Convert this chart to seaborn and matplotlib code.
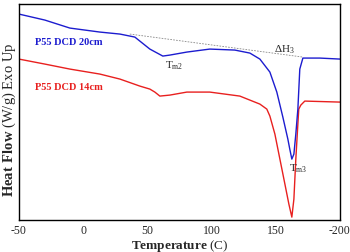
import numpy as np
import pandas as pd
import matplotlib
matplotlib.use("Agg")
import matplotlib.pyplot as plt
import seaborn as sns

# DSC curves (temperature in C, heat flow in arbitrary W/g units)
temp_20cm = [-50, -29.8, -10.3, 13.1, 28.7, 40.3, 52.0, 62.1, 67.6, 80.8, 98.7, 118.2,
             129.9, 137.7, 145.5, 150.9, 155.6, 159.5, 161.0, 162.6, 164.2, 165.7,
             167.3, 168.8, 171.2, 184.4, 200]
flow_20cm = [10.30, 10.0, 9.6, 9.4, 9.3, 9.15, 8.55, 8.2, 8.25, 8.4, 8.55, 8.5,
             8.35, 8.05, 7.4, 6.4, 5.15, 4.05, 3.55, 3.05, 3.3, 4.3,
             5.55, 7.55, 8.1, 8.1, 8.05]

temp_14cm = [-50, -29.8, -10.3, 13.1, 28.7, 44.2, 52.0, 55.9, 59.8, 67.6, 80.8, 98.7,
             122.1, 137.7, 143.1, 145.5, 149.4, 153.3, 157.2, 160.3, 162.6, 164.2,
             165.7, 167.3, 168.0, 169.6, 172.7, 200]
flow_14cm = [8.05, 7.8, 7.55, 7.3, 7.05, 6.7, 6.55, 6.4, 6.2, 6.25, 6.4, 6.4,
             6.2, 5.8, 5.55, 5.2, 4.3, 3.05, 1.8, 0.8, 0.15, 1.05,
             3.05, 4.8, 5.55, 5.75, 5.95, 5.9]

# baseline for the Delta H3 integration
base_temp = [36.4, 171.2]
base_flow = [9.3, 8.15]

tick_vals = [-50, 0, 50, 100, 150, 200]
tick_labels = ["-50", "0", "50", "100", "150", "-200"]

sns.set_style("white")
plt.rcParams["font.family"] = ["Liberation Serif", "DejaVu Serif"]
plt.rcParams["mathtext.fontset"] = "custom"
plt.rcParams["mathtext.rm"] = "Liberation Serif"
plt.rcParams["mathtext.bf"] = "Liberation Serif:bold"

blue = "#1c1ccf"
red = "#e8201f"

fig = plt.figure(figsize=(3.5, 2.53), dpi=100)
ax = fig.add_axes([0.054, 0.126, 0.917, 0.854])

df20 = pd.DataFrame({"T": temp_20cm, "HF": flow_20cm})
df14 = pd.DataFrame({"T": temp_14cm, "HF": flow_14cm})
sns.lineplot(data=df14, x="T", y="HF", sort=False, color=red, linewidth=1.0, ax=ax)
sns.lineplot(data=df20, x="T", y="HF", sort=False, color=blue, linewidth=1.0, ax=ax)
ax.plot(base_temp, base_flow, color="#888888", linestyle="--", linewidth=0.6,
        dashes=(2, 1.5))

ax.text(-37.5, 8.95, "P55 DCD 20cm", color=blue, fontsize=7.5, fontweight="bold",
        va="center", ha="left")
ax.text(-37.5, 6.7, "P55 DCD 14cm", color=red, fontsize=7.5, fontweight="bold",
        va="center", ha="left")
ax.text(70.7, 7.75, r"T$_{\mathrm{m2}}$", fontsize=8, ha="center", va="center")
ax.text(157.2, 8.55, r"$\Delta$H$_3$", fontsize=8, ha="center", va="center")
ax.text(167.3, 2.65, r"T$_{\mathrm{m3}}$", fontsize=8, ha="center", va="center")

ax.set_xlim(-50, 200)
ax.set_ylim(0, 10.8)
ax.set_xticks(tick_vals)
ax.set_xticklabels(tick_labels, fontsize=8.5)
ax.set_yticks([])
ax.tick_params(axis="x", length=0, pad=3)
ax.set_xlabel(r"$\mathbf{Temperature}$ (C)", fontsize=9.5)
ax.xaxis.set_label_coords(0.5, -0.080)
ax.set_ylabel(r"$\mathbf{Heat\ Flow}$ (W/g) Exo Up", fontsize=10.5)
ax.yaxis.set_label_coords(-0.002, 0.47)
for sp in ax.spines.values():
    sp.set_color("black")
    sp.set_linewidth(1.0)

fig.savefig("out.png", dpi=100)
